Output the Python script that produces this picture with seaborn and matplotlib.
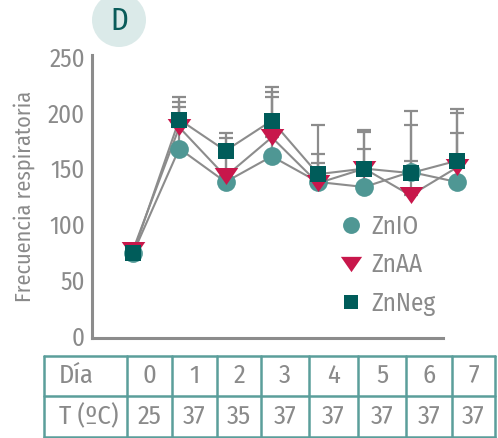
import matplotlib
matplotlib.use("Agg")
import matplotlib.pyplot as plt
import seaborn as sns
import pandas as pd
import numpy as np
from matplotlib.patches import Circle

sns.set_theme(style="white")
plt.rcParams['font.family'] = ['Fira Sans Condensed', 'DejaVu Sans']
plt.rcParams['font.weight'] = 'normal'

days = [0, 1, 2, 3, 4, 5, 6, 7]
temps = [25, 37, 35, 37, 37, 37, 37, 37]
series = ["ZnIO", "ZnAA", "ZnNeg"]
zn_io = [74, 168, 138, 161, 138, 133.5, 147, 138]
zn_aa = [77, 187, 143, 178, 137, 150, 126, 151]
zn_neg = [74, 194, 166, 193, 145, 150, 146, 157]
sd_io = [0, 37, 32, 53, 17, 34.5, 10, 44]
sd_aa = [0, 23, 34, 41, 26, 33, 63, 49]
sd_neg = [0, 20, 16, 30, 44, 35, 56, 46]

colors = {"ZnIO": "#4f9794", "ZnAA": "#c8174b", "ZnNeg": "#005c5a"}
gray_text = "#8a8a8a"
line_gray = "#8c8c8c"

df = pd.DataFrame({
    "day": days * 3,
    "value": zn_io + zn_aa + zn_neg,
    "sd": sd_io + sd_aa + sd_neg,
    "group": sum([[s] * len(days) for s in series], []),
})

W, H = 498, 438
fig = plt.figure(figsize=(W / 100, H / 100), dpi=100)
ax = fig.add_axes([92 / W, (H - 338) / H, (480 - 92) / W, (338 - 55) / H])

# error bars (upper only)
for s in series:
    sub = df[df.group == s]
    ax.errorbar(sub.day, sub.value, yerr=[np.zeros(len(sub)), sub.sd.values],
                fmt="none", ecolor=line_gray, elinewidth=1.6, capsize=5,
                capthick=1.6, zorder=1)

# connecting lines
sns.lineplot(data=df, x="day", y="value", units="group", estimator=None,
             color=line_gray, linewidth=1.5, ax=ax, zorder=2, legend=False)

tri = [(-1, 0.72), (1, 0.72), (0, -0.72)]
markers = {"ZnIO": "o", "ZnAA": tri, "ZnNeg": "s"}
sizes = {"ZnIO": 13.5, "ZnAA": 17, "ZnNeg": 11.5}
for s in series:
    sub = df[df.group == s]
    ax.plot(sub.day, sub.value, linestyle="none", marker=markers[s],
            markersize=sizes[s], color=colors[s], markeredgewidth=0,
            label=s, zorder=3)

ax.set_xlim(-0.886, 7.5)
ax.set_ylim(-1.8, 251.8)
ax.set_yticks([0, 50, 100, 150, 200, 250])
ax.set_xticks([])
ax.tick_params(axis="y", length=0, pad=5, labelsize=18, labelcolor=gray_text)
for sp in ["top", "right"]:
    ax.spines[sp].set_visible(False)
for sp in ["left", "bottom"]:
    ax.spines[sp].set_color(line_gray)
    ax.spines[sp].set_linewidth(2.2)
ax.spines["bottom"].set_bounds(-0.886, 6.70)
ax.set_xlabel("")
ax.set_ylabel("Frecuencia respiratoria", fontsize=16, color=gray_text, labelpad=9)
ax.patch.set_alpha(0)

leg = ax.legend(loc="center left", bbox_to_anchor=((328 - 92) / (480 - 92), (338 - 265) / (338 - 55)),
                frameon=False, fontsize=18, labelcolor=gray_text, handlelength=0.85,
                handletextpad=0.4, labelspacing=0.55, borderpad=0, markerscale=0.9)

# D badge
fig.add_artist(Circle((1.19, (H - 20) / 100), 0.27, transform=fig.dpi_scale_trans,
                      facecolor="#dbeae9", edgecolor="none"))
fig.text(119 / W, (H - 21) / H, "D", ha="center", va="center", fontsize=22,
         color="#0a5c5a")

# table
tax = fig.add_axes([0, 0, 1, 1])
tax.set_xlim(0, W)
tax.set_ylim(H, 0)
tax.axis("off")
tax.patch.set_alpha(0)
bcol = "#5b9e9b"
xb = [44, 127, 172, 217, 261, 309, 358, 406, 452, 495]
y_top, y_mid, y_bot = 356, 396, 436.5
for x in xb:
    tax.plot([x, x], [y_top, y_bot], color=bcol, lw=1.8)
for y in [y_top, y_mid, y_bot]:
    tax.plot([xb[0], xb[-1]], [y, y], color=bcol, lw=1.8)
row1, row2 = (y_top + y_mid) / 2, (y_mid + y_bot) / 2
tax.text(59, row1, "Día", ha="left", va="center", fontsize=19, color=gray_text)
tax.text(59, row2, "T (ºC)", ha="left", va="center", fontsize=19, color=gray_text)
for i, (d, t) in enumerate(zip(days, temps)):
    cx = (xb[i + 1] + xb[i + 2]) / 2
    tax.text(cx, row1, str(d), ha="center", va="center", fontsize=19, color=gray_text)
    tax.text(cx, row2, str(t), ha="center", va="center", fontsize=19, color=gray_text)

fig.savefig("out.png", dpi=100)
